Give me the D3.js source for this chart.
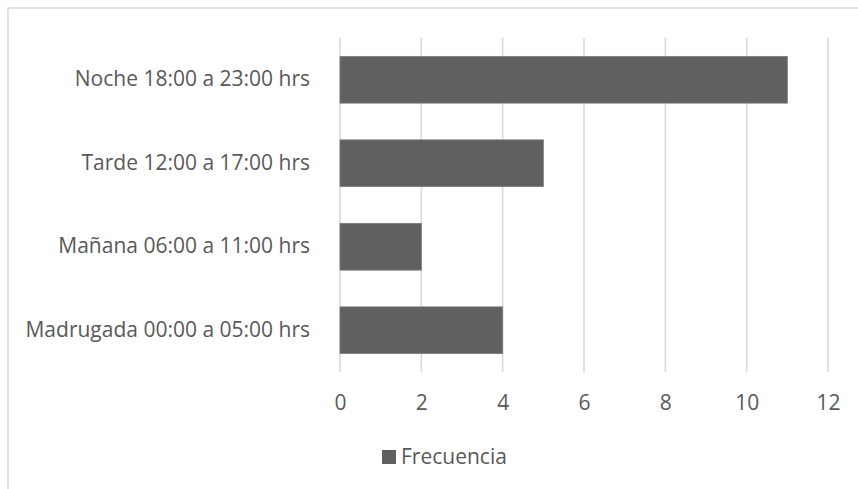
<!DOCTYPE html>
<html>
<head>
<meta charset="utf-8">
<script src="https://cdn.jsdelivr.net/npm/d3@7"></script>
<style>
  body { margin: 0; background: #fff; }
  svg text { font-family: "Open Sans", "Noto Sans", sans-serif; fill: #595959; }
</style>
</head>
<body>
<div id="chart"></div>
<script>
const categories = [
    "Noche 18:00 a 23:00 hrs",
    "Tarde 12:00 a 17:00 hrs",
    "Mañana 06:00 a 11:00 hrs",
    "Madrugada 00:00 a 05:00 hrs"
];
const frecuencia = [11, 5, 2, 4];
const xTicks = [0, 2, 4, 6, 8, 10, 12];
const seriesName = "Frecuencia";

const width = 858, height = 489;
const margin = {top: 38, right: 30, bottom: 117, left: 340};
const fontSize = "21px";

const svg = d3.select("#chart").append("svg")
    .attr("width", width)
    .attr("height", height);

// chart frame (runs off the right and bottom edge)
svg.append("rect")
    .attr("x", 8).attr("y", 8)
    .attr("width", width).attr("height", height)
    .attr("fill", "none")
    .attr("stroke", "#d9d9d9")
    .attr("stroke-width", 1.5);

const x = d3.scaleLinear()
    .domain([0, 12])
    .range([margin.left, 828]);

const y = d3.scaleBand()
    .domain(categories)
    .range([margin.top, height - margin.bottom])
    .paddingInner(0.44)
    .paddingOuter(0.22);

// gridlines
svg.append("g")
    .selectAll("line")
    .data(xTicks)
    .join("line")
    .attr("x1", d => x(d)).attr("x2", d => x(d))
    .attr("y1", margin.top).attr("y2", height - margin.bottom)
    .attr("stroke", "#d9d9d9")
    .attr("stroke-width", 1.5);

// bars
svg.append("g")
    .selectAll("rect")
    .data(frecuencia)
    .join("rect")
    .attr("x", x(0))
    .attr("y", (d, i) => y(categories[i]))
    .attr("width", d => x(d) - x(0))
    .attr("height", y.bandwidth())
    .attr("fill", "#606060")
    .attr("stroke", "#7a7a7a")
    .attr("stroke-width", 0.8);

// x axis labels
const xAxis = svg.append("g")
    .attr("transform", "translate(0," + (height - margin.bottom) + ")")
    .call(d3.axisBottom(x).tickValues(xTicks).tickSize(0).tickPadding(22));
xAxis.select(".domain").remove();
xAxis.selectAll("text")
    .attr("y", 31).attr("dy", "0.35em")
    .style("font-size", fontSize).attr("fill", "#595959");

// y axis labels
const yAxis = svg.append("g")
    .attr("transform", "translate(" + margin.left + ",0)")
    .call(d3.axisLeft(y).tickSize(0).tickPadding(30));
yAxis.select(".domain").remove();
yAxis.selectAll("text").style("font-size", fontSize).attr("fill", "#595959");

// legend
const legend = svg.append("g").attr("transform", "translate(382,450)");
legend.append("rect")
    .attr("width", 14).attr("height", 14)
    .attr("fill", "#606060");
legend.append("text")
    .attr("x", 19).attr("y", 7)
    .attr("dy", "0.35em")
    .style("font-size", fontSize)
    .text(seriesName);
</script>
</body>
</html>
